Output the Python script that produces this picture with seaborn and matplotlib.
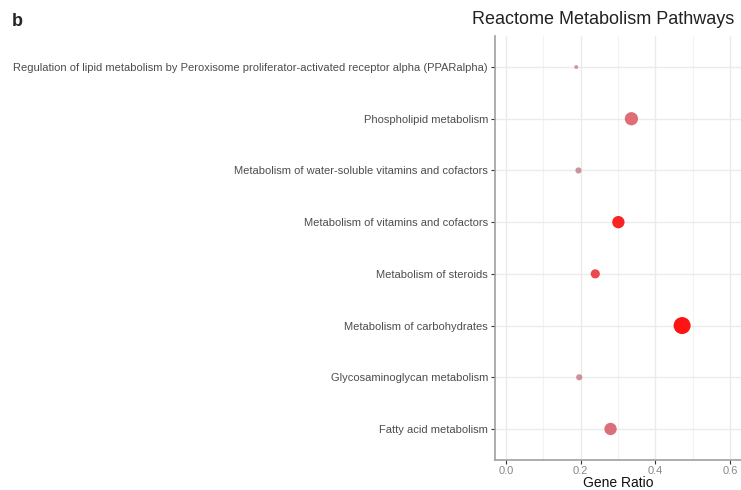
import numpy as np
import pandas as pd
import matplotlib.pyplot as plt
from matplotlib.colors import LinearSegmentedColormap
import seaborn as sns

# Pathway data (top to bottom as displayed)
pathways = [
    "Regulation of lipid metabolism by Peroxisome proliferator-activated receptor alpha (PPARalpha)",
    "Phospholipid metabolism",
    "Metabolism of water-soluble vitamins and cofactors",
    "Metabolism of vitamins and cofactors",
    "Metabolism of steroids",
    "Metabolism of carbohydrates",
    "Glycosaminoglycan metabolism",
    "Fatty acid metabolism",
]
gene_ratio = [0.188, 0.336, 0.194, 0.301, 0.239, 0.472, 0.196, 0.280]
gene_count = [2, 9, 3, 8, 5, 14, 3, 8]
neg_log_p = [1.0, 2.9, 1.2, 4.6, 3.8, 5.0, 1.3, 2.8]

df = pd.DataFrame({"pathway": pathways, "ratio": gene_ratio,
                   "count": gene_count, "sig": neg_log_p})
df["ypos"] = np.arange(len(df))[::-1]

sns.set_style("white")
plt.rcParams["font.family"] = ["Liberation Sans", "DejaVu Sans"]

fig = plt.figure(figsize=(7.41, 4.90), dpi=100)
ax = fig.add_axes([495 / 741, 1 - 460 / 490, 1 - 495 / 741, (460 - 36) / 490])

cmap = LinearSegmentedColormap.from_list("pr", ["#c4909a", "#dd5e68", "#ff0000"])
sns.scatterplot(data=df, x="ratio", y="ypos", hue="sig", size="count",
                palette=cmap, sizes=(8, 150), hue_norm=(1.0, 5.0),
                alpha=0.92, linewidth=0, legend=False, ax=ax, zorder=3)

ax.set_xlim(-0.03, 0.63)
ax.set_ylim(-0.6, len(df) - 0.4)
ax.set_xticks([0.0, 0.2, 0.4, 0.6])
ax.set_xticklabels(["0.0", "0.2", "0.4", "0.6"])
ax.set_xticks([0.1, 0.3, 0.5], minor=True)
ax.set_yticks(df["ypos"])
ax.set_yticklabels(df["pathway"])

ax.grid(True, which="major", color="#ebebeb", linewidth=1.0)
ax.grid(True, which="minor", axis="x", color="#f2f2f2", linewidth=0.8)
ax.set_axisbelow(True)
for s in ["top", "right"]:
    ax.spines[s].set_visible(False)
for s in ["left", "bottom"]:
    ax.spines[s].set_color("#a0a0a0")
    ax.spines[s].set_linewidth(1.2)

ax.tick_params(axis="y", which="major", length=3, width=0.8, color="#333333",
               labelsize=8.0, labelcolor="#4d4d4d", pad=2, left=True)
ax.tick_params(axis="x", which="major", length=3, width=0.8, color="#333333",
               labelsize=8.0, labelcolor="#888888", pad=1.5, bottom=True)
ax.tick_params(axis="x", which="minor", length=0)
ax.set_xlabel("Gene Ratio", fontsize=10, color="#111111", labelpad=0)
ax.set_ylabel("")

fig.text(603 / 741, 1 - 19 / 490, "Reactome Metabolism Pathways",
         ha="center", va="center", fontsize=13, color="#222222")
fig.text(12 / 741, 1 - 22 / 490, "b", ha="left", va="center",
         fontsize=13, fontweight="bold")

fig.savefig("out.png", dpi=100)
